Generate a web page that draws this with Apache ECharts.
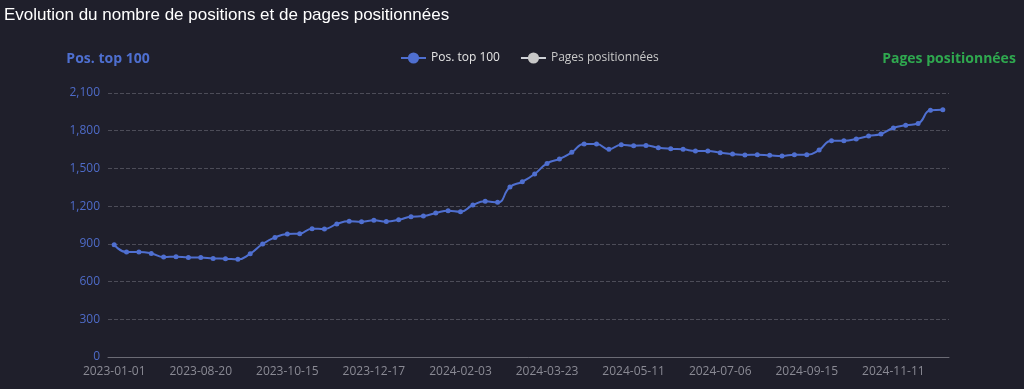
<!DOCTYPE html>
<html>
<head>
<meta charset="utf-8">
<script src="https://cdn.jsdelivr.net/npm/echarts@6/dist/echarts.min.js"></script>
<style>
html,body{margin:0;padding:0;background:#1f1f2b;}
#c{width:1024px;height:389px;}
</style>
</head>
<body>
<div id="c"></div>
<script>
const categories = [
 '2023-01-01','2023-02-05','2023-03-05','2023-04-02','2023-05-07','2023-06-04','2023-07-09',
 '2023-08-20','2023-08-27','2023-09-03','2023-09-10','2023-09-17','2023-09-24','2023-10-08',
 '2023-10-15','2023-10-22','2023-10-29','2023-11-05','2023-11-19','2023-11-26','2023-12-10',
 '2023-12-17','2023-12-24','2023-12-31','2024-01-07','2024-01-14','2024-01-21','2024-01-27',
 '2024-02-03','2024-02-10','2024-02-17','2024-02-24','2024-03-02','2024-03-09','2024-03-16',
 '2024-03-23','2024-03-30','2024-04-06','2024-04-13','2024-04-20','2024-04-27','2024-05-04',
 '2024-05-11','2024-05-18','2024-05-25','2024-06-01','2024-06-08','2024-06-15','2024-06-29',
 '2024-07-06','2024-07-13','2024-07-27','2024-08-10','2024-08-17','2024-08-24','2024-09-07',
 '2024-09-15','2024-09-22','2024-09-29','2024-10-06','2024-10-13','2024-10-27','2024-11-03',
 '2024-11-11','2024-11-18','2024-11-25','2024-12-02','2024-12-09'
];
const posTop100 = [
 893,835,835,824,795,798,792,
 792,784,782,777,822,899,951,
 978,981,1021,1018,1058,1079,1076,
 1087,1078,1091,1116,1121,1145,1164,
 1156,1209,1238,1230,1352,1394,1456,
 1540,1575,1628,1694,1694,1652,1689,
 1681,1683,1665,1656,1652,1639,1639,
 1625,1615,1607,1609,1604,1599,1609,
 1609,1647,1721,1721,1734,1758,1774,
 1822,1843,1858,1962,1967
];
const pagesPositionnees = [];
const yTicks = [0,300,600,900,1200,1500,1800,2100];

const chart = echarts.init(document.getElementById('c'));
chart.setOption({
  backgroundColor:'#1f1f2b',
  animation:false,
  title:{
    text:'Evolution du nombre de positions et de pages positionnées',
    left:-1, top:2,
    textStyle:{color:'#ffffff', fontSize:17, fontWeight:'normal', fontFamily:'Liberation Sans'}
  },
  legend:{
    left:395, top:47,
    itemWidth:25, itemHeight:14, itemGap:20,
    textStyle:{color:'#e6e6e6', fontSize:12, fontFamily:'Open Sans'},
    inactiveColor:'#c8c8c8',
    data:['Pos. top 100','Pages positionnées'],
    selected:{'Pages positionnées':false}
  },
  grid:{left:108, right:75, top:93, bottom:32},
  xAxis:{
    type:'category',
    data:categories,
    boundaryGap:true,
    axisLine:{lineStyle:{color:'#6b6b75'}},
    axisTick:{interval:6, lineStyle:{color:'#6b6b75'}},
    axisLabel:{interval:6, margin:9, color:'#8a8a94', fontSize:12, fontFamily:'Open Sans'}
  },
  yAxis:[{
    type:'value',
    name:'Pos. top 100',
    nameGap:27,
    nameTextStyle:{color:'#4e6fd0', fontSize:14, fontWeight:'bold', fontFamily:'Open Sans'},
    min:yTicks[0], max:yTicks[yTicks.length-1], interval:300,
    axisLine:{show:false},
    axisTick:{show:false},
    axisLabel:{color:'#4e6bc8', fontSize:12, fontFamily:'Open Sans'},
    splitLine:{lineStyle:{color:'#4c4c58', type:'dashed'}}
  },{
    type:'value',
    name:'Pages positionnées',
    position:'right',
    nameGap:27,
    nameTextStyle:{color:'#2fa84f', fontSize:14, fontWeight:'bold', fontFamily:'Open Sans'},
    axisLine:{show:false},
    axisTick:{show:false},
    axisLabel:{show:false},
    splitLine:{show:false}
  }],
  series:[{
    name:'Pos. top 100',
    type:'line',
    yAxisIndex:0,
    data:posTop100,
    smooth:true,
    symbol:'circle',
    symbolSize:5,
    color:'#4f6fd0',
    lineStyle:{width:2}
  },{
    name:'Pages positionnées',
    type:'line',
    yAxisIndex:1,
    data:pagesPositionnees,
    smooth:true,
    symbol:'circle',
    symbolSize:5,
    color:'#3ba55c'
  }]
});
</script>
</body>
</html>
